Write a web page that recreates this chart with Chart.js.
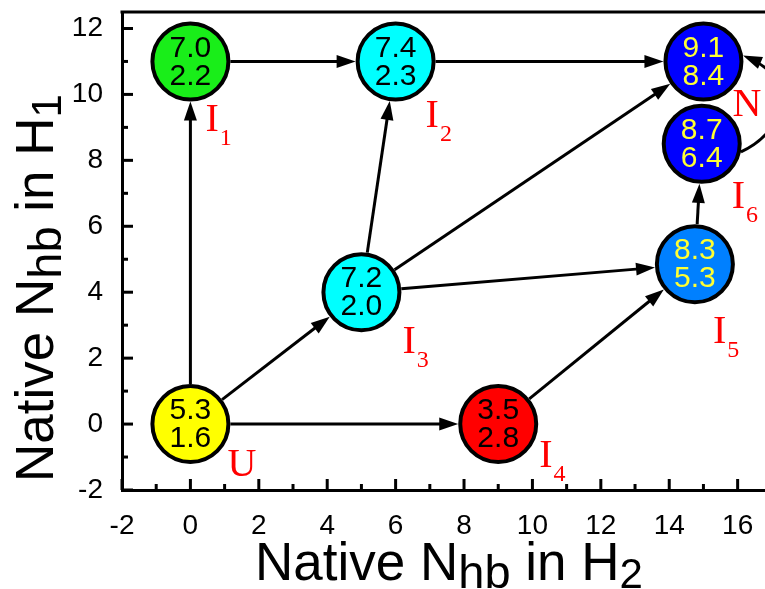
<!DOCTYPE html>
<html>
<head>
<meta charset="utf-8">
<script src="https://cdn.jsdelivr.net/npm/chart.js@4.4.1/dist/chart.umd.min.js"></script>
<style>
  html, body { margin: 0; padding: 0; background: #fff; }
  #wrap { width: 765px; height: 589px; }
</style>
</head>
<body>
<div id="wrap"><canvas id="chart" width="765" height="589"></canvas></div>
<script>
// ============================================
// DATA
// ============================================

const nodeNames = ['U', 'I1', 'I2', 'I3', 'I4', 'I5', 'I6', 'N'];
const nodeX = [0, 0, 6, 5, 9, 14.75, 14.95, 15];
const nodeY = [0, 11, 11, 4, 0, 4.85, 8.5, 11];
const topValues = ['5.3', '7.0', '7.4', '7.2', '3.5', '8.3', '8.7', '9.1'];
const bottomValues = ['1.6', '2.2', '2.3', '2.0', '2.8', '5.3', '6.4', '8.4'];

// transitions (index into the node arrays)
const edgeFrom = [0, 1, 0, 0, 3, 3, 3, 4, 2, 5];
const edgeTo   = [1, 2, 3, 4, 2, 7, 5, 5, 7, 6];
const curvedFrom = [6];
const curvedTo = [7];

const xTicks = [-2, 0, 2, 4, 6, 8, 10, 12, 14, 16];
const xMinorTicks = [-1, 1, 3, 5, 7, 9, 11, 13, 15];
const yTicks = [-2, 0, 2, 4, 6, 8, 10, 12];
const yMinorTicks = [-1, 1, 3, 5, 7, 9, 11];

// ============================================
// STYLES
// ============================================

const fillColors = ['#ffff00', '#19ee19', '#00ffff', '#00ffff', '#ff0000', '#0080ff', '#0000ff', '#0000ff'];
const textColors = ['#000', '#000', '#000', '#000', '#000', '#ffff33', '#ffff33', '#ffff33'];
const labelMain = ['U', 'I', 'I', 'I', 'I', 'I', 'I', 'N'];
const labelSub  = ['', '1', '2', '3', '4', '5', '6', ''];
const labelDx = [37, 15, 30, 41, 41, 18, 30, 29];
const labelDy = [52, 70, 66, 61, 43, 79, 64, 55];

const SANS = '"Liberation Sans", Arial, sans-serif';
const SERIF = '"Liberation Serif", "Times New Roman", serif';
const R_OUT = 40;

// ============================================
// HELPERS
// ============================================

function drawArrowHead(ctx, tx, ty, ang) {
    const len = 19, half = 6.5;
    ctx.beginPath();
    ctx.moveTo(tx, ty);
    ctx.lineTo(tx - len * Math.cos(ang) + half * Math.sin(ang), ty - len * Math.sin(ang) - half * Math.cos(ang));
    ctx.lineTo(tx - len * Math.cos(ang) - half * Math.sin(ang), ty - len * Math.sin(ang) + half * Math.cos(ang));
    ctx.closePath();
    ctx.fill();
}

function drawRich(ctx, parts, x, y, vertical) {
    ctx.save();
    let total = 0;
    parts.forEach(p => {
        ctx.font = p.size + 'px ' + SANS;
        p.w = ctx.measureText(p.t).width;
        total += p.w;
    });
    ctx.translate(x, y);
    if (vertical) ctx.rotate(-Math.PI / 2);
    let cx = -total / 2;
    ctx.fillStyle = '#000';
    ctx.textBaseline = 'alphabetic';
    ctx.textAlign = 'left';
    parts.forEach(p => {
        ctx.font = p.size + 'px ' + SANS;
        ctx.fillText(p.t, cx, p.dy || 0);
        cx += p.w;
    });
    ctx.restore();
}

// ============================================
// PLUGIN: frame, ticks, arrows, texts
// ============================================

const graphPlugin = {
    id: 'graphPlugin',
    beforeDatasetsDraw(chart) {
        const ctx = chart.ctx;
        const xs = chart.scales.x, ys = chart.scales.y;
        const area = chart.chartArea;

        ctx.save();
        ctx.strokeStyle = '#000';
        ctx.lineWidth = 3;

        // top frame
        ctx.beginPath();
        ctx.moveTo(area.left - 1.5, area.top);
        ctx.lineTo(chart.width, area.top);
        ctx.stroke();

        // inward ticks
        const tick = (vals, len, horiz) => {
            vals.forEach(v => {
                ctx.beginPath();
                if (horiz) {
                    const px = xs.getPixelForValue(v);
                    ctx.moveTo(px, area.bottom);
                    ctx.lineTo(px, area.bottom - len);
                } else {
                    const py = ys.getPixelForValue(v);
                    ctx.moveTo(area.left, py);
                    ctx.lineTo(area.left + len, py);
                }
                ctx.stroke();
            });
        };
        tick(xTicks, 11, true);
        tick(xMinorTicks, 6, true);
        tick(yTicks, 11, false);
        tick(yMinorTicks, 6, false);

        // straight arrows
        ctx.fillStyle = '#000';
        edgeFrom.forEach((a, i) => {
            const b = edgeTo[i];
            const x1 = xs.getPixelForValue(nodeX[a]), y1 = ys.getPixelForValue(nodeY[a]);
            const x2 = xs.getPixelForValue(nodeX[b]), y2 = ys.getPixelForValue(nodeY[b]);
            const ang = Math.atan2(y2 - y1, x2 - x1);
            const sx = x1 + R_OUT * Math.cos(ang), sy = y1 + R_OUT * Math.sin(ang);
            const tx = x2 - R_OUT * Math.cos(ang), ty = y2 - R_OUT * Math.sin(ang);
            ctx.beginPath();
            ctx.moveTo(sx, sy);
            ctx.lineTo(tx - 10 * Math.cos(ang), ty - 10 * Math.sin(ang));
            ctx.stroke();
            drawArrowHead(ctx, tx, ty, ang);
        });

        // curved arrow on the right side
        curvedFrom.forEach((a, i) => {
            const b = curvedTo[i];
            const x1 = xs.getPixelForValue(nodeX[a]), y1 = ys.getPixelForValue(nodeY[a]);
            const x2 = xs.getPixelForValue(nodeX[b]), y2 = ys.getPixelForValue(nodeY[b]);
            const a1 = 0.2, a2 = -0.15;
            const sx = x1 + R_OUT * Math.cos(a1), sy = y1 + R_OUT * Math.sin(a1);
            const tx = x2 + R_OUT * Math.cos(a2), ty = y2 + R_OUT * Math.sin(a2);
            const c1x = sx + 48, c1y = sy - 22;
            const c2x = tx + 52, c2y = ty + 22;
            ctx.beginPath();
            ctx.moveTo(sx, sy);
            ctx.bezierCurveTo(c1x, c1y, c2x, c2y, tx + 8, ty + 4);
            ctx.stroke();
            drawArrowHead(ctx, tx, ty, Math.atan2(ty - c2y, tx - c2x));
        });
        ctx.restore();
    },
    afterDatasetsDraw(chart) {
        const ctx = chart.ctx;
        const xs = chart.scales.x, ys = chart.scales.y;
        ctx.save();
        nodeX.forEach((v, i) => {
            const px = xs.getPixelForValue(v), py = ys.getPixelForValue(nodeY[i]);
            ctx.textAlign = 'center';
            ctx.textBaseline = 'middle';
            ctx.fillStyle = textColors[i];
            ctx.font = '30px ' + SANS;
            ctx.fillText(topValues[i], px, py - 13);
            ctx.fillText(bottomValues[i], px, py + 15);

            // state label
            ctx.fillStyle = '#ff0000';
            ctx.textAlign = 'left';
            ctx.textBaseline = 'alphabetic';
            ctx.font = '40px ' + SERIF;
            const lx = px + labelDx[i], ly = py + labelDy[i];
            ctx.fillText(labelMain[i], lx, ly);
            if (labelSub[i]) {
                const w = ctx.measureText(labelMain[i]).width;
                ctx.font = '24px ' + SERIF;
                ctx.fillText(labelSub[i], lx + w + 1, ly + 14);
            }
        });
        ctx.restore();
    },
    afterDraw(chart) {
        const ctx = chart.ctx;
        drawRich(ctx, [
            { t: 'Native N', size: 53 },
            { t: 'hb', size: 47, dy: 8 },
            { t: ' in H', size: 53 },
            { t: '2', size: 42, dy: 8 }
        ], 449, 580, false);
        drawRich(ctx, [
            { t: 'Native N', size: 53 },
            { t: 'hb', size: 47, dy: 8 },
            { t: ' in H', size: 53 },
            { t: '1', size: 42, dy: 8 }
        ], 53, 288, true);
    }
};

// ============================================
// CHART
// ============================================

const points = nodeX.map((v, i) => ({ x: v, y: nodeY[i] }));

new Chart(document.getElementById('chart').getContext('2d'), {
    type: 'scatter',
    data: {
        labels: nodeNames,
        datasets: [{
            data: points,
            pointRadius: 38,
            pointHoverRadius: 38,
            pointBackgroundColor: fillColors,
            pointBorderColor: '#000',
            pointBorderWidth: 4,
            clip: false
        }]
    },
    options: {
        responsive: false,
        animation: false,
        events: [],
        layout: { autoPadding: false, padding: { top: 12, right: 0, left: 0, bottom: 0 } },
        plugins: {
            legend: { display: false },
            tooltip: { enabled: false }
        },
        scales: {
            x: {
                type: 'linear',
                min: -2,
                max: 16.8,
                grid: { display: false },
                border: { display: true, color: '#000', width: 3 },
                ticks: {
                    padding: 11,
                    color: '#000',
                    font: { family: SANS, size: 28 }
                },
                afterBuildTicks: scale => { scale.ticks = xTicks.map(v => ({ value: v })); },
                afterFit: scale => { scale.height = 99; scale.paddingLeft = 0; scale.paddingRight = 0; }
            },
            y: {
                type: 'linear',
                min: -2,
                max: 12.5,
                grid: { display: false },
                border: { display: true, color: '#000', width: 3 },
                ticks: {
                    padding: 11,
                    color: '#000',
                    font: { family: SANS, size: 28 }
                },
                afterBuildTicks: scale => { scale.ticks = yTicks.map(v => ({ value: v })); },
                afterFit: scale => { scale.width = 122; scale.paddingTop = 0; scale.paddingBottom = 0; }
            }
        }
    },
    plugins: [graphPlugin]
});
</script>
</body>
</html>
